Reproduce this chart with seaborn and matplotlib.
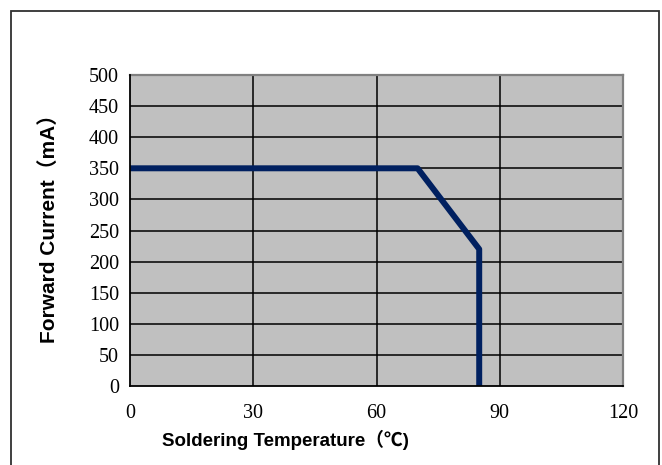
import matplotlib
matplotlib.use("Agg")
import matplotlib.pyplot as plt
import seaborn as sns
import pandas as pd
from matplotlib.patches import Rectangle

# Data
temperature = [0, 70, 85, 85]
current = [350, 350, 220, 0]
x_ticks = [0, 30, 60, 90, 120]
y_ticks = [0, 50, 100, 150, 200, 250, 300, 350, 400, 450, 500]

df = pd.DataFrame({"temp": temperature, "current": current})

sns.set_style("white")
plt.rcParams["font.family"] = ["Liberation Sans", "Noto Sans CJK SC", "DejaVu Sans"]
plt.rcParams["text.color"] = "black"

fig = plt.figure(figsize=(6.62, 4.65), dpi=100)
W, H = 662, 465
ax = fig.add_axes([130 / W, 1 - 386 / H, (623 - 130) / W, (386 - 75) / H])
ax.set_facecolor("#C0C0C0")

sns.lineplot(data=df, x="temp", y="current", sort=False, estimator=None,
             color="#002060", linewidth=4.3, ax=ax, zorder=5)

ax.set_xlim(0, 120)
ax.set_ylim(0, 500)
ax.set_xticks(x_ticks)
ax.set_yticks(y_ticks)
ax.set_xticklabels([str(v) for v in x_ticks], fontfamily="Liberation Serif", fontsize=14.5)
ax.set_yticklabels([str(v) for v in y_ticks], fontfamily="Liberation Serif", fontsize=14.5)

for v in y_ticks[1:-1]:
    ax.axhline(v, color="black", linewidth=1.1, zorder=2)
for v in x_ticks[1:-1]:
    ax.axvline(v, color="black", linewidth=1.1, zorder=2)

ax.tick_params(axis="both", direction="in", length=5, width=1.1, color="black",
               labelcolor="black")
ax.tick_params(axis="y", pad=8)
ax.tick_params(axis="x", pad=13)

for side in ["left", "bottom"]:
    ax.spines[side].set_color("black")
    ax.spines[side].set_linewidth(1.3)
for side in ["top", "right"]:
    ax.spines[side].set_color("#808080")
    ax.spines[side].set_linewidth(1.6)
    ax.spines[side].set_visible(True)
ax.spines["left"].set_zorder(6)
ax.spines["bottom"].set_zorder(6)

ax.set_xlabel("")
ax.set_ylabel("")

fig.text(285 / W, 1 - 440 / H, "Soldering Temperature（℃)", ha="center", va="center",
         fontsize=13.5, fontweight="bold", color="black",
         family=["Liberation Sans", "Noto Sans CJK SC", "DejaVu Sans"])
fig.text(49 / W, 1 - 223 / H, "Forward Current（mA）", ha="center", va="center",
         rotation=90, fontsize=15, fontweight="bold", color="black",
         family=["Liberation Sans", "Noto Sans CJK SC", "DejaVu Sans"])

# figure border (left, top, right)
fig.add_artist(Rectangle((11 / W, -0.05), (659 - 11) / W, 1.05 - 11 / H,
                         transform=fig.transFigure, fill=False,
                         edgecolor="#303030", linewidth=1.3))

fig.savefig("out.png", dpi=100)
